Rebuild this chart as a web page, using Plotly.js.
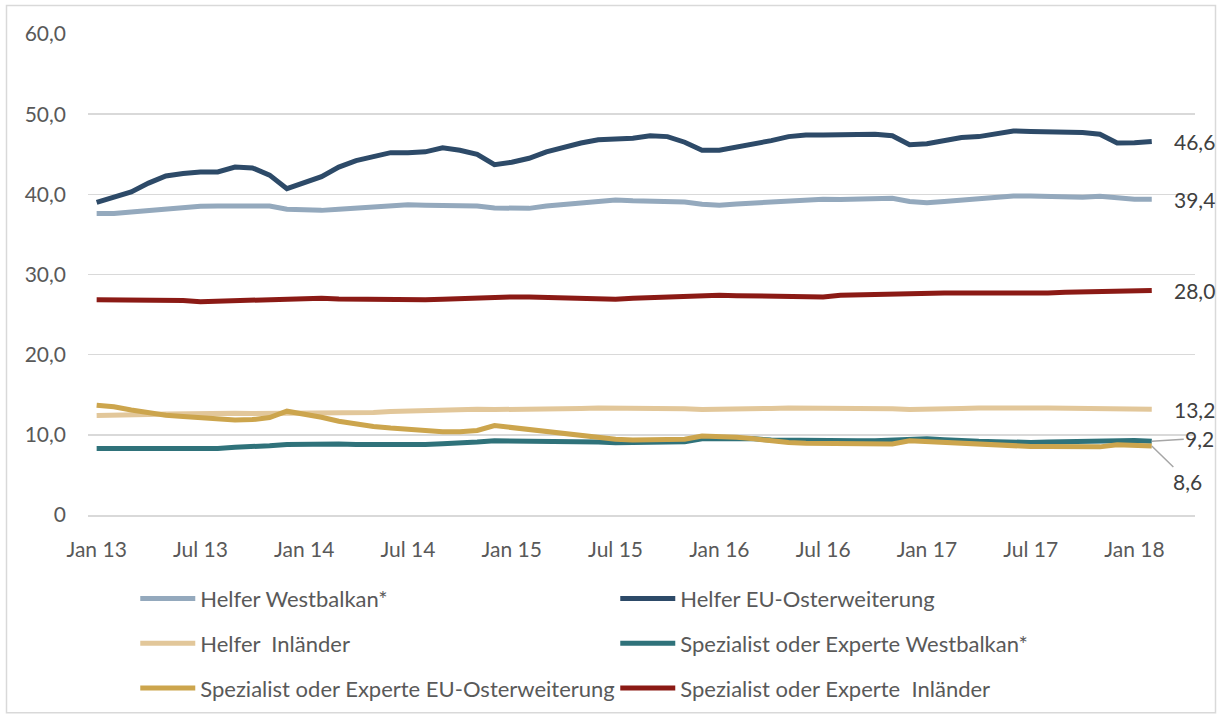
<!DOCTYPE html>
<html>
<head>
<meta charset="utf-8">
<script src="https://cdn.plot.ly/plotly-3.0.1.min.js"></script>
<style>
html,body{margin:0;padding:0;background:#fff;}
#chart{width:1221px;height:721px;}
</style>
</head>
<body>
<div id="chart"></div>
<script>
const months = ["Jan 13","Feb 13","Mrz 13","Apr 13","Mai 13","Jun 13","Jul 13","Aug 13","Sep 13","Okt 13","Nov 13","Dez 13",
"Jan 14","Feb 14","Mrz 14","Apr 14","Mai 14","Jun 14","Jul 14","Aug 14","Sep 14","Okt 14","Nov 14","Dez 14",
"Jan 15","Feb 15","Mrz 15","Apr 15","Mai 15","Jun 15","Jul 15","Aug 15","Sep 15","Okt 15","Nov 15","Dez 15",
"Jan 16","Feb 16","Mrz 16","Apr 16","Mai 16","Jun 16","Jul 16","Aug 16","Sep 16","Okt 16","Nov 16","Dez 16",
"Jan 17","Feb 17","Mrz 17","Apr 17","Mai 17","Jun 17","Jul 17","Aug 17","Sep 17","Okt 17","Nov 17","Dez 17",
"Jan 18","Feb 18"];

const tickLabels = ["Jan 13","Jul 13","Jan 14","Jul 14","Jan 15","Jul 15","Jan 16","Jul 16","Jan 17","Jul 17","Jan 18"];
const yTickValues = [0,10,20,30,40,50,60];
const yTickLabels = ["0","10,0","20,0","30,0","40,0","50,0","60,0"];

const helferWestbalkan = [37.6,37.6,37.8,38.0,38.2,38.35,38.5,38.55,38.55,38.65,38.55,38.15,38.0,38.0,38.15,38.3,38.4,38.6,38.7,38.65,38.65,38.65,38.55,38.3,38.2,38.25,38.55,38.7,38.9,39.15,39.3,39.2,
39.2,39.15,39.05,38.75,38.65,38.8,38.9,39.0,39.2,39.35,39.4,39.35,39.4,39.45,39.5,39.1,38.95,39.1,39.3,39.45,39.7,39.8,39.8,39.75,39.65,39.65,39.75,39.5,39.4,39.4];

const helferEUOst = [39.0,39.6,40.3,41.4,42.3,42.6,42.8,42.8,43.4,43.3,42.4,40.7,41.5,42.2,43.4,44.2,44.7,45.2,45.2,45.3,45.8,45.5,45.0,43.7,44.0,44.5,45.3,45.9,46.4,46.8,46.9,47.0,
47.3,47.2,46.5,45.5,45.5,45.9,46.2,46.7,47.2,47.4,47.4,47.45,47.6,47.5,47.3,46.2,46.3,46.7,47.1,47.2,47.6,47.9,47.85,47.8,47.9,47.7,47.5,46.4,46.45,46.6];

const helferInland = [12.4,12.4,12.45,12.55,12.6,12.65,12.7,12.7,12.7,12.65,12.65,12.65,12.65,12.65,12.7,12.75,12.8,12.9,12.95,13.1,13.2,13.2,13.2,13.15,13.15,13.15,13.2,13.25,13.3,13.35,13.35,13.4,
13.3,13.3,13.25,13.15,13.15,13.2,13.25,13.3,13.35,13.35,13.35,13.35,13.3,13.25,13.25,13.15,13.15,13.2,13.3,13.35,13.4,13.4,13.35,13.35,13.35,13.3,13.3,13.25,13.2,13.2];

const spezWestbalkan = [8.3,8.3,8.3,8.3,8.3,8.25,8.25,8.3,8.45,8.5,8.65,8.8,8.85,8.85,8.85,8.8,8.8,8.7,8.65,8.8,8.9,8.95,9.1,9.25,9.25,9.25,9.25,9.25,9.2,9.1,9.0,9.0,
9.0,9.05,9.15,9.5,9.55,9.55,9.5,9.35,9.3,9.25,9.25,9.25,9.25,9.25,9.35,9.55,9.5,9.4,9.25,9.2,9.15,9.05,9.05,9.1,9.15,9.15,9.1,9.3,9.3,9.2];

const spezEUOst = [13.7,13.5,13.1,12.7,12.45,12.3,12.1,12.05,11.85,11.9,12.15,12.95,12.65,12.2,11.7,11.35,11.05,10.85,10.65,10.55,10.4,10.4,10.55,11.15,10.9,10.7,10.4,10.1,9.85,9.65,9.45,9.35,
9.35,9.35,9.45,9.85,9.85,9.7,9.5,9.25,9.05,8.95,8.9,8.85,8.85,8.85,8.85,9.25,9.15,9.05,8.85,8.75,8.7,8.6,8.55,8.55,8.55,8.55,8.5,8.75,8.7,8.6];

const spezInland = [26.85,26.85,26.85,26.8,26.8,26.75,26.6,26.65,26.75,26.8,26.85,26.95,27.05,27.05,26.95,26.9,26.9,26.85,26.75,26.85,26.9,27.0,27.15,27.2,27.2,27.2,27.15,27.05,27.05,27.05,26.9,27.05,
27.15,27.2,27.3,27.4,27.4,27.35,27.35,27.3,27.3,27.2,27.2,27.4,27.45,27.6,27.7,27.75,27.7,27.7,27.7,27.7,27.7,27.65,27.55,27.7,27.8,27.85,27.9,27.95,28.0,28.0];

const seriesNames = ["Helfer Westbalkan*","Helfer EU-Osterweiterung","Helfer  Inländer",
  "Spezialist oder Experte Westbalkan*","Spezialist oder Experte EU-Osterweiterung","Spezialist oder Experte  Inländer"];
const seriesData = [helferWestbalkan, helferEUOst, helferInland, spezWestbalkan, spezEUOst, spezInland];
const seriesColors = ["#94a9bd","#2d4a68","#e2c79a","#2f727a","#cca54d","#8b1a15"];
const legendIds = ["legend","legend","legend2","legend2","legend3","legend3"];

const FONT = "Lato, 'Open Sans', sans-serif";
const traces = seriesData.map((d,i)=>({
  type:"scatter", mode:"lines", x:months, y:d, name:seriesNames[i],
  line:{color:seriesColors[i], width:5},
  legend:legendIds[i], hoverinfo:"x+y+name"
}));

const tickIdx = tickLabels.map(t=>months.indexOf(t));
const boundaryTicks = tickIdx.map(i=>i-0.5);

function fmt(v){return v.toFixed(1).replace(".",",");}
const last = months.length-1;
const labelFont = {family:FONT, size:21, color:"#404040"};
const annotations = [
  {x:months[last], y:helferEUOst[last], text:fmt(helferEUOst[last]), showarrow:false, xanchor:"left", yanchor:"middle", xshift:20, font:labelFont},
  {x:months[last], y:helferWestbalkan[last], text:fmt(helferWestbalkan[last]), showarrow:false, xanchor:"left", yanchor:"middle", xshift:20, font:labelFont},
  {x:months[last], y:spezInland[last], text:fmt(spezInland[last]), showarrow:false, xanchor:"left", yanchor:"middle", xshift:20, font:labelFont},
  {x:months[last], y:helferInland[last], text:fmt(helferInland[last]), showarrow:false, xanchor:"left", yanchor:"middle", xshift:20, font:labelFont},
  {x:months[last], y:spezWestbalkan[last], text:fmt(spezWestbalkan[last]), showarrow:true, arrowhead:0, arrowwidth:1.5, arrowcolor:"#a6a6a6", ax:48, ay:-3, standoff:0, font:labelFont},
  {x:months[last], y:spezEUOst[last], text:fmt(spezEUOst[last]), showarrow:true, arrowhead:0, arrowwidth:1.5, arrowcolor:"#a6a6a6", ax:36, ay:35, standoff:0, font:labelFont}
];

const legendBase = {orientation:"h", xanchor:"left", yanchor:"middle", x:0.0427, entrywidth:410, entrywidthmode:"pixels",
  itemwidth:55, font:{family:FONT, size:22, color:"#595959"}, bgcolor:"rgba(0,0,0,0)", borderwidth:0};

const layout = {
  width:1221, height:721,
  margin:{l:88, r:26, t:34, b:204, pad:0},
  paper_bgcolor:"#ffffff", plot_bgcolor:"#ffffff",
  font:{family:FONT, size:20, color:"#595959"},
  showlegend:true,
  xaxis:{type:"category", range:[-0.5,63.5], tickmode:"array", tickvals:tickLabels, ticktext:tickLabels,
    showgrid:false, zeroline:false, showline:true, linecolor:"#d9d9d9", linewidth:1.5,
    ticks:"outside", ticklen:7, tickcolor:"rgba(0,0,0,0)", ticklabelstandoff:8,
    tickfont:{family:FONT, size:21, color:"#595959"}, fixedrange:true},
  xaxis2:{overlaying:"x", anchor:"y", side:"bottom", range:[-0.5,63.5], tickmode:"array", tickvals:boundaryTicks,
    showticklabels:false, ticks:"outside", ticklen:7, tickwidth:1.5, tickcolor:"#d9d9d9",
    showgrid:false, zeroline:false, showline:false, fixedrange:true},
  yaxis:{range:[0,60], tickmode:"array", tickvals:yTickValues, ticktext:yTickLabels,
    showgrid:true, gridcolor:"#d9d9d9", gridwidth:1.5, zeroline:false, showline:false,
    ticks:"", ticklabelstandoff:21, tickfont:{family:FONT, size:21, color:"#595959"}, fixedrange:true},
  legend:Object.assign({}, legendBase, {y:(517-601)/483}),
  legend2:Object.assign({}, legendBase, {y:(517-646)/483}),
  legend3:Object.assign({}, legendBase, {y:(517-691)/483}),
  annotations:annotations,
  shapes:[{type:"rect", xref:"paper", yref:"paper", x0:(6.5-88)/1107, x1:(1215.5-88)/1107, y0:(517-715.5)/483, y1:(517-5.5)/483,
    line:{color:"#d9d9d9", width:1.5}, fillcolor:"rgba(0,0,0,0)", layer:"below"}]
};

Plotly.newPlot("chart", traces, layout, {displayModeBar:false, staticPlot:true});
</script>
</body>
</html>
